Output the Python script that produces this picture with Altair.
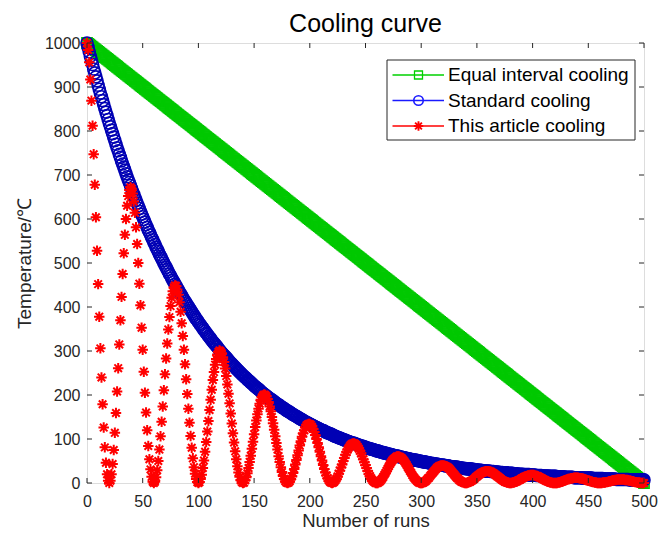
import altair as alt
import pandas as pd

# ---------------- data ----------------
RUNS = list(range(0, 501))

EQUAL_INTERVAL = [
    1000, 998, 996, 994, 992, 990, 988, 986, 984, 982, 980, 978, 976, 974, 972, 970, 968, 966, 964, 962, 960, 958, 956, 954, 952,
    950, 948, 946, 944, 942, 940, 938, 936, 934, 932, 930, 928, 926, 924, 922, 920, 918, 916, 914, 912, 910, 908, 906, 904, 902,
    900, 898, 896, 894, 892, 890, 888, 886, 884, 882, 880, 878, 876, 874, 872, 870, 868, 866, 864, 862, 860, 858, 856, 854, 852,
    850, 848, 846, 844, 842, 840, 838, 836, 834, 832, 830, 828, 826, 824, 822, 820, 818, 816, 814, 812, 810, 808, 806, 804, 802,
    800, 798, 796, 794, 792, 790, 788, 786, 784, 782, 780, 778, 776, 774, 772, 770, 768, 766, 764, 762, 760, 758, 756, 754, 752,
    750, 748, 746, 744, 742, 740, 738, 736, 734, 732, 730, 728, 726, 724, 722, 720, 718, 716, 714, 712, 710, 708, 706, 704, 702,
    700, 698, 696, 694, 692, 690, 688, 686, 684, 682, 680, 678, 676, 674, 672, 670, 668, 666, 664, 662, 660, 658, 656, 654, 652,
    650, 648, 646, 644, 642, 640, 638, 636, 634, 632, 630, 628, 626, 624, 622, 620, 618, 616, 614, 612, 610, 608, 606, 604, 602,
    600, 598, 596, 594, 592, 590, 588, 586, 584, 582, 580, 578, 576, 574, 572, 570, 568, 566, 564, 562, 560, 558, 556, 554, 552,
    550, 548, 546, 544, 542, 540, 538, 536, 534, 532, 530, 528, 526, 524, 522, 520, 518, 516, 514, 512, 510, 508, 506, 504, 502,
    500, 498, 496, 494, 492, 490, 488, 486, 484, 482, 480, 478, 476, 474, 472, 470, 468, 466, 464, 462, 460, 458, 456, 454, 452,
    450, 448, 446, 444, 442, 440, 438, 436, 434, 432, 430, 428, 426, 424, 422, 420, 418, 416, 414, 412, 410, 408, 406, 404, 402,
    400, 398, 396, 394, 392, 390, 388, 386, 384, 382, 380, 378, 376, 374, 372, 370, 368, 366, 364, 362, 360, 358, 356, 354, 352,
    350, 348, 346, 344, 342, 340, 338, 336, 334, 332, 330, 328, 326, 324, 322, 320, 318, 316, 314, 312, 310, 308, 306, 304, 302,
    300, 298, 296, 294, 292, 290, 288, 286, 284, 282, 280, 278, 276, 274, 272, 270, 268, 266, 264, 262, 260, 258, 256, 254, 252,
    250, 248, 246, 244, 242, 240, 238, 236, 234, 232, 230, 228, 226, 224, 222, 220, 218, 216, 214, 212, 210, 208, 206, 204, 202,
    200, 198, 196, 194, 192, 190, 188, 186, 184, 182, 180, 178, 176, 174, 172, 170, 168, 166, 164, 162, 160, 158, 156, 154, 152,
    150, 148, 146, 144, 142, 140, 138, 136, 134, 132, 130, 128, 126, 124, 122, 120, 118, 116, 114, 112, 110, 108, 106, 104, 102,
    100, 98, 96, 94, 92, 90, 88, 86, 84, 82, 80, 78, 76, 74, 72, 70, 68, 66, 64, 62, 60, 58, 56, 54, 52,
    50, 48, 46, 44, 42, 40, 38, 36, 34, 32, 30, 28, 26, 24, 22, 20, 18, 16, 14, 12, 10, 8, 6, 4, 2,
    0,
]

STANDARD = [
    1000, 990, 980, 970, 961, 951, 941, 932, 923, 914,
    904, 895, 886, 878, 869, 860, 851, 843, 835, 826,
    818, 810, 802, 794, 786, 778, 770, 762, 755, 747,
    740, 732, 725, 718, 711, 703, 696, 689, 683, 676,
    669, 662, 656, 649, 643, 636, 630, 624, 617, 611,
    605, 599, 593, 587, 581, 575, 570, 564, 558, 553,
    547, 542, 536, 531, 526, 520, 515, 510, 505, 500,
    495, 490, 485, 480, 475, 471, 466, 461, 457, 452,
    448, 443, 439, 434, 430, 426, 421, 417, 413, 409,
    405, 401, 397, 393, 389, 385, 381, 377, 373, 370,
    366, 362, 359, 355, 352, 348, 345, 341, 338, 334,
    331, 328, 324, 321, 318, 315, 312, 309, 305, 302,
    299, 296, 293, 290, 288, 285, 282, 279, 276, 273,
    271, 268, 265, 263, 260, 257, 255, 252, 250, 247,
    245, 242, 240, 238, 235, 233, 231, 228, 226, 224,
    221, 219, 217, 215, 213, 211, 208, 206, 204, 202,
    200, 198, 196, 194, 192, 190, 189, 187, 185, 183,
    181, 179, 178, 176, 174, 172, 171, 169, 167, 165,
    164, 162, 161, 159, 157, 156, 154, 153, 151, 150,
    148, 147, 145, 144, 142, 141, 139, 138, 137, 135,
    134, 133, 131, 130, 129, 127, 126, 125, 124, 122,
    121, 120, 119, 118, 116, 115, 114, 113, 112, 111,
    110, 108, 107, 106, 105, 104, 103, 102, 101, 100,
    99, 98, 97, 96, 95, 94, 93, 92, 91, 91,
    90, 89, 88, 87, 86, 85, 84, 84, 83, 82,
    81, 80, 79, 79, 78, 77, 76, 76, 75, 74,
    73, 73, 72, 71, 70, 70, 69, 68, 68, 67,
    66, 66, 65, 64, 64, 63, 62, 62, 61, 61,
    60, 59, 59, 58, 58, 57, 56, 56, 55, 55,
    54, 54, 53, 53, 52, 52, 51, 51, 50, 50,
    49, 49, 48, 48, 47, 47, 46, 46, 45, 45,
    44, 44, 43, 43, 43, 42, 42, 41, 41, 41,
    40, 40, 39, 39, 39, 38, 38, 37, 37, 37,
    36, 36, 36, 35, 35, 34, 34, 34, 33, 33,
    33, 32, 32, 32, 32, 31, 31, 31, 30, 30,
    30, 29, 29, 29, 29, 28, 28, 28, 27, 27,
    27, 27, 26, 26, 26, 26, 25, 25, 25, 25,
    24, 24, 24, 24, 23, 23, 23, 23, 22, 22,
    22, 22, 22, 21, 21, 21, 21, 20, 20, 20,
    20, 20, 19, 19, 19, 19, 19, 19, 18, 18,
    18, 18, 18, 17, 17, 17, 17, 17, 17, 16,
    16, 16, 16, 16, 16, 15, 15, 15, 15, 15,
    15, 15, 14, 14, 14, 14, 14, 14, 14, 13,
    13, 13, 13, 13, 13, 13, 13, 12, 12, 12,
    12, 12, 12, 12, 12, 11, 11, 11, 11, 11,
    11, 11, 11, 11, 10, 10, 10, 10, 10, 10,
    10, 10, 10, 10, 9, 9, 9, 9, 9, 9,
    9, 9, 9, 9, 9, 8, 8, 8, 8, 8,
    8, 8, 8, 8, 8, 8, 8, 7, 7, 7,
    7, 7, 7, 7, 7, 7, 7, 7, 7, 7,
    7,
]

THIS_ARTICLE = [
    1000, 984, 956, 917, 869, 812, 747, 678, 604, 528,
    452, 378, 306, 240, 179, 126, 81, 46, 20, 5,
    0, 5, 20, 43, 75, 114, 159, 208, 261, 315,
    370, 423, 475, 522, 564, 600, 630, 652, 666, 672,
    669, 658, 640, 614, 581, 543, 500, 453, 404, 353,
    303, 253, 205, 160, 120, 84, 54, 31, 14, 3,
    0, 3, 13, 29, 50, 76, 106, 139, 174, 211,
    247, 283, 317, 349, 377, 402, 421, 436, 445, 449,
    448, 440, 428, 411, 389, 363, 334, 303, 270, 236,
    202, 169, 137, 107, 80, 56, 36, 21, 9, 2,
    0, 2, 9, 19, 34, 51, 71, 93, 117, 141,
    166, 189, 212, 234, 252, 269, 282, 292, 298, 301,
    299, 295, 286, 275, 260, 243, 224, 203, 181, 158,
    135, 113, 92, 72, 54, 38, 24, 14, 6, 2,
    0, 1, 6, 13, 22, 34, 48, 62, 78, 94,
    111, 127, 142, 156, 169, 180, 189, 195, 199, 201,
    200, 197, 191, 184, 174, 163, 150, 136, 121, 106,
    91, 76, 61, 48, 36, 25, 16, 9, 4, 1,
    0, 1, 4, 9, 15, 23, 32, 42, 52, 63,
    74, 85, 95, 105, 113, 120, 126, 131, 133, 134,
    134, 132, 128, 123, 116, 109, 100, 91, 81, 71,
    61, 51, 41, 32, 24, 17, 11, 6, 3, 1,
    0, 1, 3, 6, 10, 15, 21, 28, 35, 42,
    50, 57, 64, 70, 76, 80, 84, 87, 89, 90,
    90, 88, 86, 82, 78, 73, 67, 61, 54, 47,
    41, 34, 27, 21, 16, 11, 7, 4, 2, 0,
    0, 0, 2, 4, 7, 10, 14, 19, 23, 28,
    33, 38, 43, 47, 51, 54, 56, 58, 60, 60,
    60, 59, 57, 55, 52, 49, 45, 41, 36, 32,
    27, 23, 18, 14, 11, 8, 5, 3, 1, 0,
    0, 0, 1, 3, 4, 7, 10, 12, 16, 19,
    22, 25, 28, 31, 34, 36, 38, 39, 40, 40,
    40, 39, 38, 37, 35, 33, 30, 27, 24, 21,
    18, 15, 12, 10, 7, 5, 3, 2, 1, 0,
    0, 0, 1, 2, 3, 5, 6, 8, 10, 13,
    15, 17, 19, 21, 23, 24, 25, 26, 27, 27,
    27, 26, 26, 25, 23, 22, 20, 18, 16, 14,
    12, 10, 8, 6, 5, 3, 2, 1, 1, 0,
    0, 0, 1, 1, 2, 3, 4, 6, 7, 8,
    10, 11, 13, 14, 15, 16, 17, 17, 18, 18,
    18, 18, 17, 16, 16, 15, 13, 12, 11, 9,
    8, 7, 5, 4, 3, 2, 1, 1, 0, 0,
    0, 0, 0, 1, 1, 2, 3, 4, 5, 6,
    7, 8, 9, 9, 10, 11, 11, 12, 12, 12,
    12, 12, 11, 11, 10, 10, 9, 8, 7, 6,
    5, 5, 4, 3, 2, 2, 1, 1, 0, 0,
    0, 0, 0, 1, 1, 1, 2, 2, 3, 4,
    4, 5, 6, 6, 7, 7, 8, 8, 8, 8,
    8, 8, 8, 7, 7, 7, 6, 5, 5, 4,
    4, 3, 2, 2, 1, 1, 1, 0, 0, 0,
    0,
]

SERIES_NAMES = ["Equal interval cooling", "Standard cooling", "This article cooling"]
X_TICKS = [0, 50, 100, 150, 200, 250, 300, 350, 400, 450, 500]
Y_TICKS = [0, 100, 200, 300, 400, 500, 600, 700, 800, 900, 1000]

# ---------------- styling ----------------
FONT = "Liberation Sans"
AX = "#262626"
GREEN = "#00c800"
BLUE = "#0000b4"
RED = "#ff0000"
LEG_GREEN = "#00d000"
LEG_BLUE = "#1a1aff"
W, H = 557, 440
STAR = "M-1,0L1,0M0,-1L0,1M-0.72,-0.72L0.72,0.72M-0.72,0.72L0.72,-0.72"

x_scale = alt.Scale(domain=[0, 500], nice=False, zero=False)
y_scale = alt.Scale(domain=[0, 1000], nice=False, zero=False)

x_axis = alt.Axis(
    values=X_TICKS, ticks=False, domain=False, grid=False, format="d",
    labelFont=FONT, labelFontSize=16, labelColor=AX, labelPadding=10,
    labelFlush=False, labelOverlap=False,
    title="Number of runs", titleFont=FONT, titleFontSize=18.5,
    titleFontWeight="normal", titleColor=AX, titlePadding=2,
)
y_axis = alt.Axis(
    values=Y_TICKS, ticks=False, domain=False, grid=False, format="d",
    labelFont=FONT, labelFontSize=16, labelColor=AX, labelPadding=7,
    labelFlush=False, labelOverlap=False,
    title="Temperature/℃", titleFont=FONT, titleFontSize=19,
    titleFontWeight="normal", titleColor=AX, titlePadding=10,
)


def xenc(field):
    return alt.X(field, scale=x_scale, axis=x_axis)


def yenc(field):
    return alt.Y(field, scale=y_scale, axis=y_axis)


df_green = pd.DataFrame({"run": RUNS, "value": EQUAL_INTERVAL})
df_blue = pd.DataFrame({"run": RUNS, "value": STANDARD})
df_red = pd.DataFrame({"run": RUNS, "value": THIS_ARTICLE})

green = alt.Chart(df_green).mark_point(
    shape="square", filled=False, size=110, strokeWidth=1.3, color=GREEN, opacity=1
).encode(x=xenc("run:Q"), y=yenc("value:Q"))
blue = alt.Chart(df_blue).mark_point(
    shape="circle", filled=False, size=144, strokeWidth=1.6, color=BLUE, opacity=1
).encode(x=xenc("run:Q"), y=yenc("value:Q"))
red = alt.Chart(df_red).mark_point(
    shape=STAR, filled=False, size=110, strokeWidth=2.0, color=RED, opacity=1
).encode(x=xenc("run:Q"), y=yenc("value:Q"))

# inward ticks on all four sides (MATLAB box style)
xt = pd.DataFrame({"run": X_TICKS})
yt = pd.DataFrame({"value": Y_TICKS})
tick_bottom = alt.Chart(xt).mark_rule(color=AX, strokeWidth=1).encode(
    x=xenc("run:Q"), y=alt.value(H), y2=alt.value(H - 5))
tick_top = alt.Chart(xt).mark_rule(color=AX, strokeWidth=1).encode(
    x=xenc("run:Q"), y=alt.value(0), y2=alt.value(5))
tick_left = alt.Chart(yt).mark_rule(color=AX, strokeWidth=1).encode(
    y=yenc("value:Q"), x=alt.value(0), x2=alt.value(5))
tick_right = alt.Chart(yt).mark_rule(color=AX, strokeWidth=1).encode(
    y=yenc("value:Q"), x=alt.value(W), x2=alt.value(W - 5))

# legend box
one = pd.DataFrame({"k": [0]})
legend_layers = [
    alt.Chart(one).mark_rect(fill="white", stroke=AX, strokeWidth=1).encode(
        x=alt.value(300), x2=alt.value(548), y=alt.value(17), y2=alt.value(97))
]
rows_y = [32, 57.5, 83]
leg_colors = [LEG_GREEN, LEG_BLUE, RED]
leg_shapes = ["square", "circle", STAR]
leg_sizes = [64, 90, 90]
leg_sw = [1.3, 1.6, 1.9]
for name, yy, col, shp, sz, sw in zip(SERIES_NAMES, rows_y, leg_colors, leg_shapes, leg_sizes, leg_sw):
    legend_layers.append(
        alt.Chart(one).mark_rule(color=col, strokeWidth=1.5).encode(
            x=alt.value(305.5), x2=alt.value(357), y=alt.value(yy)))
    legend_layers.append(
        alt.Chart(one).mark_point(shape=shp, filled=False, size=sz, strokeWidth=sw,
                                  color=col, opacity=1).encode(
            x=alt.value(331.5), y=alt.value(yy)))
    legend_layers.append(
        alt.Chart(pd.DataFrame({"label": [name]})).mark_text(
            align="left", baseline="middle", font=FONT, fontSize=19, color="#000000"
        ).encode(x=alt.value(361), y=alt.value(yy), text="label:N"))

chart = alt.layer(
    green, blue, red, tick_bottom, tick_top, tick_left, tick_right, *legend_layers
).properties(
    width=W, height=H,
    padding={"left": 79, "top": 35, "right": 14, "bottom": 48},
    autosize=alt.AutoSizeParams(type="none"),
    title=alt.TitleParams(
        "Cooling curve", font=FONT, fontSize=25, fontWeight="normal",
        color="#000000", anchor="middle", offset=-3, frame="group",
    ),
).configure_view(
    stroke=AX, strokeWidth=1
).configure(
    background="white"
)

chart.save("out.html", embed_options={"renderer": "svg", "actions": False})
